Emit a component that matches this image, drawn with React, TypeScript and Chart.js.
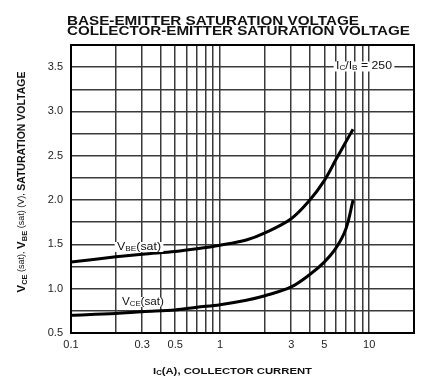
import React, { useEffect, useRef } from "react";
import { Chart, registerables } from "chart.js";

Chart.register(...registerables);

// ---- data ----
const currents = [0.1, 0.2, 0.3, 0.5, 0.7, 1, 1.5, 2, 3, 4, 5, 6, 7, 7.8];
const vbeSat = [1.3, 1.36, 1.39, 1.42, 1.45, 1.49, 1.55, 1.63, 1.79, 2.0, 2.22, 2.46, 2.66, 2.8];
const vceSat = [0.7, 0.72, 0.74, 0.76, 0.79, 0.82, 0.87, 0.92, 1.02, 1.16, 1.3, 1.46, 1.68, 2.0];
const xGridValues = [0.1, 0.2, 0.3, 0.4, 0.5, 0.6, 0.7, 0.8, 0.9, 1, 2, 3, 4, 5, 6, 7, 8, 9, 10, 20];
const xLabelValues = [0.1, 0.3, 0.5, 1, 3, 5, 10];
const titleLines = ["BASE-EMITTER SATURATION VOLTAGE", "COLLECTOR-EMITTER SATURATION VOLTAGE"];

const FONT = '"Liberation Sans", Arial, sans-serif';
const INK = "#111";

type Seg = { t: string; font: string; dy?: number };

function drawRich(
  ctx: CanvasRenderingContext2D,
  segs: Seg[],
  x: number,
  y: number,
  o: { width?: number; align?: "left" | "center"; rotate?: boolean; bg?: number }
) {
  ctx.save();
  const ws: number[] = [];
  let W = 0;
  for (const s of segs) {
    ctx.font = s.font;
    const w = ctx.measureText(s.t).width;
    ws.push(w);
    W += w;
  }
  const sx = o.width ? o.width / W : 1;
  ctx.translate(x, y);
  if (o.rotate) ctx.rotate(-Math.PI / 2);
  ctx.scale(sx, 1);
  let cx = o.align === "center" ? -W / 2 : 0;
  if (o.bg) {
    ctx.fillStyle = "#fff";
    ctx.fillRect(cx - 2, -o.bg / 2, W + 4, o.bg);
  }
  ctx.fillStyle = INK;
  ctx.textBaseline = "middle";
  ctx.textAlign = "left";
  segs.forEach((s, i) => {
    ctx.font = s.font;
    ctx.fillText(s.t, cx, s.dy || 0);
    cx += ws[i];
  });
  ctx.restore();
}

const decor = {
  id: "decor",
  beforeDatasetsDraw(chart: any) {
    const { ctx, chartArea: a } = chart;
    ctx.save();
    ctx.strokeStyle = "#000";
    ctx.lineWidth = 2;
    ctx.strokeRect(a.left, a.top, a.right - a.left, a.bottom - a.top);
    ctx.restore();
  },
  afterDraw(chart: any) {
    const ctx = chart.ctx as CanvasRenderingContext2D;
    // main title
    drawRich(ctx, [{ t: titleLines[0], font: `900 12.5px ${FONT}` }], 67, 22, { width: 292 });
    drawRich(ctx, [{ t: titleLines[1], font: `900 12.5px ${FONT}` }], 67, 31.5, { width: 343 });
    // y axis title
    drawRich(
      ctx,
      [
        { t: "V", font: `bold 11.5px ${FONT}` },
        { t: "CE", font: `bold 7.5px ${FONT}`, dy: 2.5 },
        { t: " (sat), ", font: `9px ${FONT}` },
        { t: "V", font: `bold 11.5px ${FONT}` },
        { t: "BE", font: `bold 7.5px ${FONT}`, dy: 2.5 },
        { t: " (sat) (V), ", font: `9px ${FONT}` },
        { t: "SATURATION VOLTAGE", font: `bold 10.5px ${FONT}` },
      ],
      22,
      182,
      { width: 221, align: "center", rotate: true }
    );
    // x axis title
    drawRich(
      ctx,
      [
        { t: "I", font: `bold 9.5px ${FONT}` },
        { t: "C", font: `bold 6.5px ${FONT}`, dy: 2 },
        { t: "(A), COLLECTOR CURRENT", font: `bold 9.5px ${FONT}` },
      ],
      153,
      371,
      { width: 159 }
    );
    // curve labels
    drawRich(
      ctx,
      [
        { t: "V", font: `10.5px ${FONT}` },
        { t: "BE", font: `7px ${FONT}`, dy: 2.5 },
        { t: "(sat)", font: `10.5px ${FONT}` },
      ],
      117,
      247,
      { width: 44, bg: 10 }
    );
    drawRich(
      ctx,
      [
        { t: "V", font: `10.5px ${FONT}` },
        { t: "CE", font: `7px ${FONT}`, dy: 2.5 },
        { t: "(sat)", font: `10.5px ${FONT}` },
      ],
      122,
      302,
      { width: 42, bg: 10 }
    );
    // ratio annotation
    drawRich(
      ctx,
      [
        { t: "I", font: `10.5px ${FONT}` },
        { t: "C", font: `7px ${FONT}`, dy: 2 },
        { t: "/I", font: `10.5px ${FONT}` },
        { t: "B", font: `7px ${FONT}`, dy: 2 },
        { t: " = 250", font: `10.5px ${FONT}` },
      ],
      336,
      66.5,
      { width: 56, bg: 10 }
    );
  },
};

export default function App() {
  const ref = useRef<HTMLCanvasElement | null>(null);
  useEffect(() => {
    if (!ref.current) return;
    const chart = new Chart(ref.current, {
      type: "line",
      data: {
        datasets: [
          {
            label: "VBE(sat)",
            data: currents.map((c, i) => ({ x: c, y: vbeSat[i] })),
            borderColor: "#000",
            borderWidth: 3,
            pointRadius: 0,
            tension: 0.35,
            fill: false,
          },
          {
            label: "VCE(sat)",
            data: currents.map((c, i) => ({ x: c, y: vceSat[i] })),
            borderColor: "#000",
            borderWidth: 3,
            pointRadius: 0,
            tension: 0.35,
            fill: false,
          },
        ],
      },
      options: {
        animation: false,
        responsive: true,
        maintainAspectRatio: false,
        layout: { padding: { top: 45, right: 23, left: 0, bottom: 0 } },
        plugins: { legend: { display: false }, tooltip: { enabled: false }, title: { display: false } },
        scales: {
          x: {
            type: "logarithmic",
            min: 0.1,
            max: 20,
            afterBuildTicks: (scale: any) => {
              scale.ticks = xGridValues.map((v) => ({ value: v }));
            },
            afterFit: (scale: any) => {
              scale.height = 57;
            },
            ticks: {
              autoSkip: false,
              maxRotation: 0,
              padding: 5,
              color: "#222",
              font: { family: FONT, size: 11 },
              callback: (v: any) => {
                const n = Number(v);
                return xLabelValues.some((l) => Math.abs(l - n) < 1e-9) ? String(n) : "";
              },
            },
            grid: { color: "#3a3a3a", lineWidth: 1.5, drawTicks: false },
            border: { display: false },
          },
          y: {
            type: "linear",
            min: 0.5,
            max: 3.75,
            afterFit: (scale: any) => {
              scale.width = 71;
            },
            ticks: {
              stepSize: 0.25,
              padding: 8,
              color: "#222",
              font: { family: FONT, size: 11 },
              callback: (v: any) => {
                const n = Number(v);
                return Math.abs(n * 2 - Math.round(n * 2)) < 1e-6 ? n.toFixed(1) : "";
              },
            },
            grid: { color: "#3a3a3a", lineWidth: 1.5, drawTicks: false },
            border: { display: false },
          },
        },
      },
      plugins: [decor],
    } as any);
    return () => chart.destroy();
  }, []);
  return (
    <div style={{ position: "absolute", left: 0, top: 0, width: 437, height: 390, background: "#fff" }}>
      <canvas ref={ref} />
    </div>
  );
}
